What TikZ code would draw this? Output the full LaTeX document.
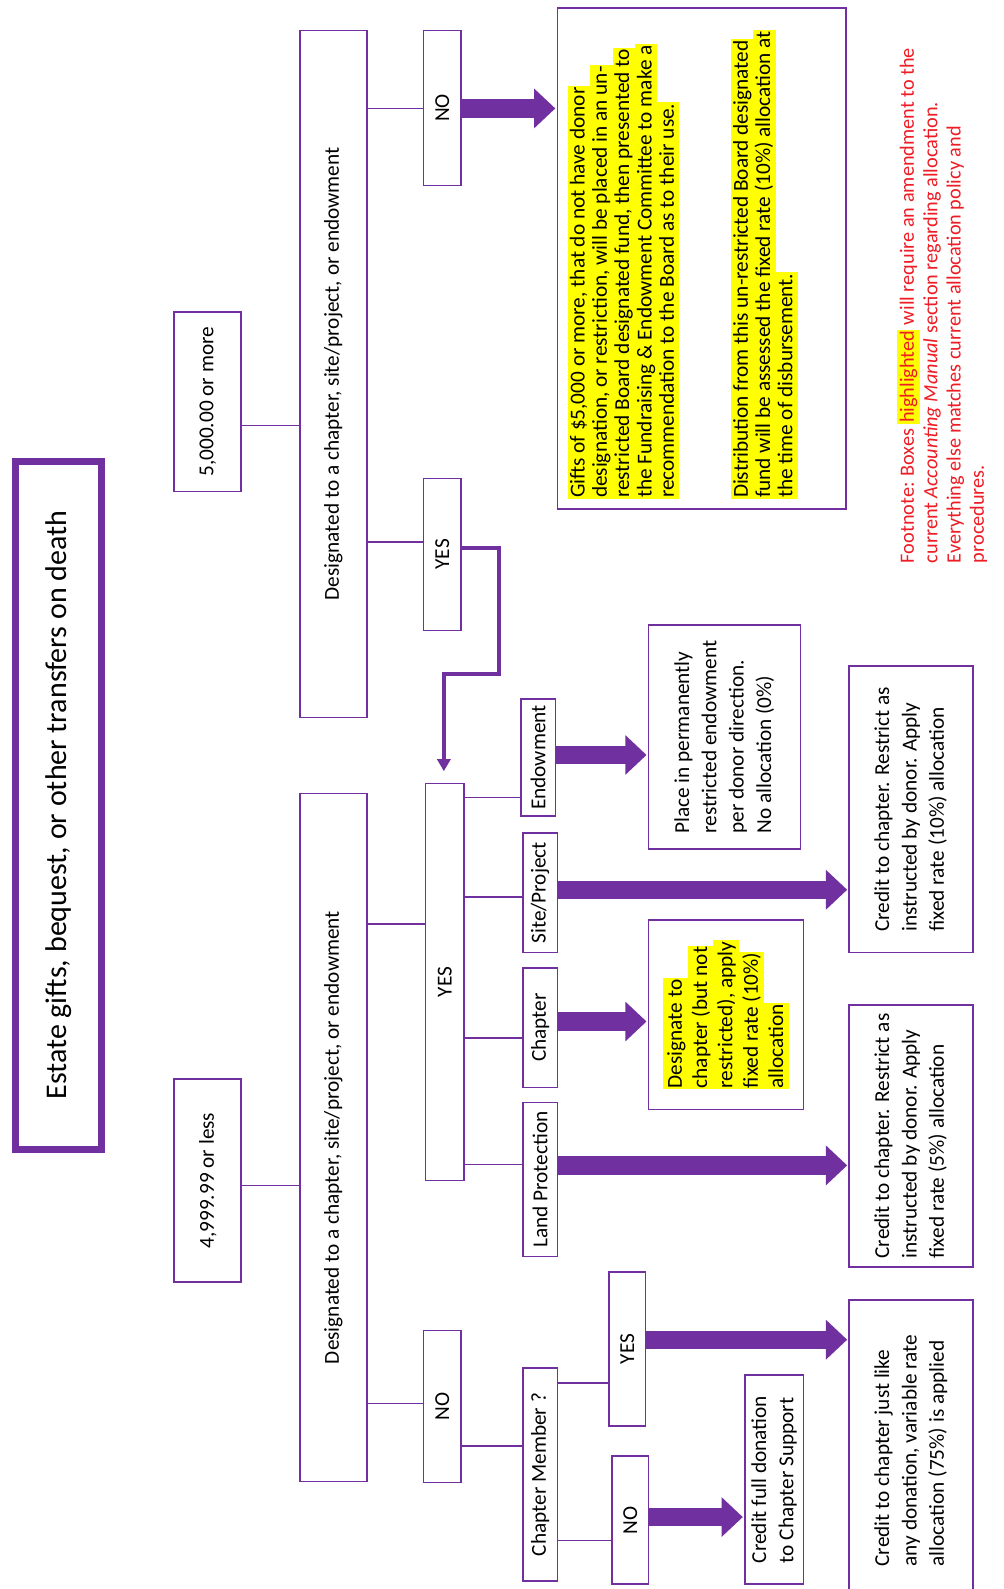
\documentclass[tikz,border=0pt]{standalone}
\usepackage{graphicx}
\usepackage{fontspec}
\setmainfont{Carlito}
\usetikzlibrary{arrows.meta}
\definecolor{pur}{RGB}{112,48,160}
\definecolor{hly}{RGB}{255,255,0}
\definecolor{fnred}{RGB}{238,28,36}
\newlength\hlh
\setlength\hlh{11pt}
\setlength\fboxsep{0pt}
\newcommand\rt[1]{\rotatebox{90}{#1}}
\newcommand\hlx[1]{\colorbox{hly}{\rule[-0.25\hlh]{0pt}{\hlh}\kern0.6pt#1\kern0.6pt}}
\newcommand\hlrow[1]{\hbox{\hlx{#1}}}
\begin{document}
\begin{tikzpicture}[x=0.5pt,y=-0.5pt,
  box/.style={draw=pur, line width=0.8pt, inner sep=0pt, outer sep=0pt, fill=white, anchor=center},
  conn/.style={draw=pur, line width=0.8pt},
  bigarrow/.style={draw=pur, line width=9pt, -{Triangle[length=10.5pt,width=19pt]}, shorten >=1pt},
  elbow/.style={draw=pur, line width=2pt, -{Triangle[length=6pt,width=6.5pt]}, shorten >=6pt},
  every node/.style={font=\fontsize{10.5pt}{13.5pt}\selectfont}]
\useasboundingbox[fill=white] (0,0) rectangle (990,1568);

% title
\node[box, line width=3.5pt, minimum width=42.5pt, minimum height=339.5pt] (title) at (57.5,794.5)
  {\rt{\fontsize{14.8pt}{17pt}\selectfont Estate gifts, bequest, or other transfers on death}};

% amounts
\node[box, minimum width=33pt, minimum height=88.5pt] (hi) at (205,396.5) {\rt{5,000.00 or more}};
\node[box, minimum width=33pt, minimum height=100pt] (lo) at (205,1165) {\rt{4,999.99 or less}};

% designated
\node[box, minimum width=33pt, minimum height=339pt] (deshi) at (329,369) {\rt{Designated to a chapter, site/project, or endowment}};
\node[box, minimum width=33pt, minimum height=339.5pt] (deslo) at (329,1122.5) {\rt{Designated to a chapter, site/project, or endowment}};

% yes/no upper
\node[box, minimum width=18.5pt, minimum height=76.5pt] (nohi) at (436.5,106.5) {\rt{NO}};
\node[box, minimum width=18.5pt, minimum height=75pt] (yeshi) at (436.5,547) {\rt{YES}};

% big box
\node[box, minimum width=142.5pt, minimum height=247pt] (gift) at (692.5,255) {};
\node[anchor=south west, inner sep=0pt] (gifttext) at (560,493) {\rt{\vbox{\fontsize{10.5pt}{11pt}\selectfont\setlength\hlh{11pt}\offinterlineskip
\hlrow{Gifts of \$5,000 or more, that do not have donor}
\hlrow{designation, or restriction, will be placed in an un-}
\hlrow{restricted Board designated fund, then presented to}
\hlrow{the Fundraising \& Endowment Committee to make a}
\hlrow{recommendation to the Board as to their use.}
\vskip 25.5pt
\hlrow{Distribution from this un-restricted Board designated}
\hlrow{fund will be assessed the fixed rate (10\%) allocation at}
\hlrow{the time of disbursement.}}}};

% yes/no lower
\node[box, minimum width=19pt, minimum height=196pt] (yeslo) at (439,969) {\rt{YES}};
\node[box, minimum width=18.5pt, minimum height=75pt] (nolo) at (436.5,1388) {\rt{NO}};

% categories
\node[box, minimum width=17pt, minimum height=57.5pt] (endow) at (531,747.5) {\rt{Endowment}};
\node[box, minimum width=17pt, minimum height=59pt] (site) at (533,881) {\rt{Site/Project}};
\node[box, minimum width=17pt, minimum height=59pt] (chap) at (533,1014) {\rt{Chapter}};
\node[box, minimum width=17pt, minimum height=76pt] (land) at (533,1164) {\rt{Land Protection}};

% results
\node[box, minimum width=75pt, minimum height=110.5pt] (endres) at (715,727.5) {\rt{\begin{tabular}{@{}l@{}}Place in permanently\\restricted endowment\\per donor direction.\\No allocation (0\%)\end{tabular}}};
\node[box, minimum width=61pt, minimum height=141.5pt] (siteres) at (899,798.5) {\rt{\begin{tabular}{@{}l@{}}Credit to chapter. Restrict as\\instructed by donor. Apply\\fixed rate (10\%) allocation\end{tabular}}};
\node[box, minimum width=76.5pt, minimum height=93.5pt] (chapres) at (716.5,1001.5) {\rt{\vbox{\fontsize{10.5pt}{12.5pt}\selectfont\setlength\hlh{12.5pt}\offinterlineskip
\hlrow{Designate to}
\hlrow{chapter (but not}
\hlrow{restricted), apply}
\hlrow{fixed rate (10\%)}
\hlrow{allocation}}}};
\node[box, minimum width=61pt, minimum height=129pt] (landres) at (899,1121) {\rt{\begin{tabular}{@{}l@{}}Credit to chapter. Restrict as\\instructed by donor. Apply\\fixed rate (5\%) allocation\end{tabular}}};

% chapter member
\node[box, minimum width=17pt, minimum height=105pt] (mem) at (533,1455) {\rt{Chapter Member ?}};
\node[box, minimum width=18pt, minimum height=76pt] (memyes) at (619,1331) {\rt{YES}};
\node[box, minimum width=18pt, minimum height=63pt] (memno) at (622,1500) {\rt{NO}};
\node[box, minimum width=61pt, minimum height=148.5pt] (memres) at (899,1431.5) {\rt{\begin{tabular}{@{}l@{}}Credit to chapter just like\\any donation, variable rate\\allocation (75\%) is applied\end{tabular}}};
\node[box, minimum width=29pt, minimum height=103pt] (supp) at (764,1460) {\rt{\begin{tabular}{@{}l@{}}Credit full donation\\to Chapter Support\end{tabular}}};

% footnote
\node[anchor=south west, inner sep=0pt, text=fnred] (foot) at (885,556) {\rt{\fontsize{10pt}{11.5pt}\selectfont\begin{tabular}{@{}l@{}}Footnote: Boxes \hlx{highlighted} will require an amendment to the\\current \emph{Accounting Manual} section regarding allocation.\\Everything else matches current allocation policy and\\procedures.\end{tabular}}};

% thin connectors
\draw[conn] (hi.east |- 0,420) -- (deshi.west |- 0,420);
\draw[conn] (lo.east |- 0,1170) -- (deslo.west |- 0,1170);
\draw[conn] (deshi.east |- 0,107) -- (nohi.west |- 0,107);
\draw[conn] (deshi.east |- 0,535) -- (yeshi.west |- 0,535);
\draw[conn] (deslo.east |- 0,912) -- (yeslo.west |- 0,912);
\draw[conn] (deslo.east |- 0,1385) -- (nolo.west |- 0,1385);
\draw[conn] (yeslo.east |- 0,787) -- (endow.west |- 0,787);
\draw[conn] (yeslo.east |- 0,885) -- (site.west |- 0,885);
\draw[conn] (yeslo.east |- 0,1024) -- (chap.west |- 0,1024);
\draw[conn] (yeslo.east |- 0,1149) -- (land.west |- 0,1149);
\draw[conn] (nolo.east |- 0,1427) -- (mem.west |- 0,1427);
\draw[conn] (mem.east |- 0,1365) -- (memyes.west |- 0,1365);
\draw[conn] (mem.east |- 0,1520) -- (memno.west |- 0,1520);

% big arrows
\draw[bigarrow] (nohi.east |- 0,107) -- (gift.west |- 0,107);
\draw[bigarrow] (endow.east |- 0,745) -- (endres.west |- 0,745);
\draw[bigarrow] (site.east |- 0,878) -- (siteres.west |- 0,878);
\draw[bigarrow] (chap.east |- 0,1008) -- (chapres.west |- 0,1008);
\draw[bigarrow] (land.east |- 0,1150) -- (landres.west |- 0,1150);
\draw[bigarrow] (memyes.east |- 0,1322) -- (memres.west |- 0,1322);
\draw[bigarrow] (memno.east |- 0,1497) -- (supp.west |- 0,1497);

% elbow arrow
\draw[elbow] (yeshi.east |- 0,541) -- (492,541) -- (492,665) -- (438,665) -- (yeslo.north -| 438,0);
\end{tikzpicture}
\end{document}
